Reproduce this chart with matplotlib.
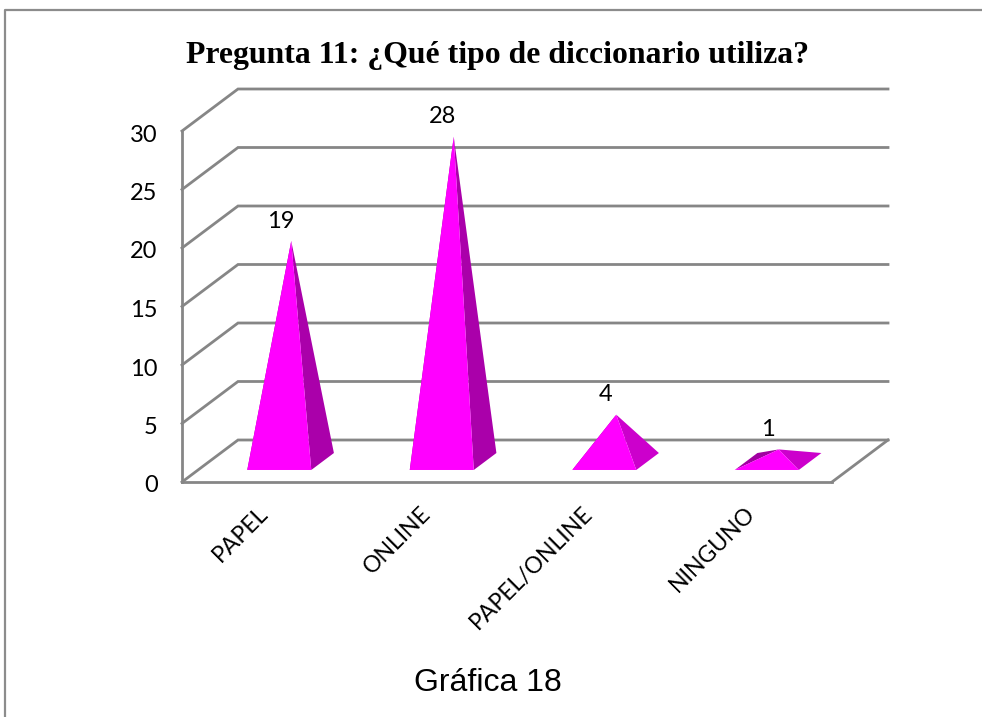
"""Pregunta 11 - pyramid chart with a fake 3D wall"""

import matplotlib
matplotlib.use("Agg")
import matplotlib.pyplot as plt
from matplotlib.lines import Line2D
from matplotlib.patches import Polygon
from matplotlib.transforms import ScaledTranslation

categories = ["PAPEL", "ONLINE", "PAPEL/ONLINE", "NINGUNO"]
values = [19, 28, 4, 1]
y_ticks = [0, 5, 10, 15, 20, 25, 30]

title = "Pregunta 11: ¿Qué tipo de diccionario utiliza?"
caption = "Gráfica 18"

GRID = "#868686"
FRONT = "#FF00FF"
SIDE = ["#AA00AA", "#AA00AA", "#CC00CC", "#CC00CC"]
BACK = "#A000A0"

# how far the back wall is shifted from the front plane, in data units
DEPTH_X = 56 / 162.5
DEPTH_Y = 42 / 11.7


def project(x, y, d):
    return x + d * DEPTH_X, y + d * DEPTH_Y


fig = plt.figure(figsize=(9.82, 7.17), dpi=100)
ax = fig.add_axes([182 / 982, (717 - 482) / 717, 650 / 982, 351 / 717])
ax.set_xlim(0, 4)
ax.set_ylim(0, 30)

# walls and floor
for t in y_ticks:
    x0, y0 = project(0, t, 0)
    x1, y1 = project(0, t, 1)
    x2, y2 = project(4, t, 1)
    ax.plot([x0, x1, x2], [y0, y1, y2], color=GRID, lw=2.0, clip_on=False,
            solid_joinstyle="miter", zorder=1)
x0, y0 = project(4, 0, 0)
x1, y1 = project(4, 0, 1)
ax.plot([x0, x1], [y0, y1], color=GRID, lw=2.0, clip_on=False, zorder=1)

for side in ["top", "right"]:
    ax.spines[side].set_visible(False)
for side in ["left", "bottom"]:
    ax.spines[side].set_color(GRID)
    ax.spines[side].set_linewidth(2.0)

# pyramids
for i, v in enumerate(values):
    c = i + 0.5
    fl = project(c - 0.197, 0, 0.286)
    fr = project(c + 0.197, 0, 0.286)
    bl = project(c - 0.197, 0, 0.69)
    br = project(c + 0.197, 0, 0.69)
    apex = project(c, v * 0.99, 0.5)
    ax.add_patch(Polygon([fl, bl, apex], color=BACK, lw=0, zorder=3, clip_on=False))
    ax.add_patch(Polygon([fr, br, apex], color=SIDE[i], lw=0, zorder=3, clip_on=False))
    ax.add_patch(Polygon([fl, fr, apex], color=FRONT, lw=0, zorder=4, clip_on=False))
    ax.text(c + 0.105, apex[1] + 1.7, str(v), ha="center", va="center",
            family="Lato", fontsize=17, color="black", zorder=5)

ax.set_yticks(y_ticks)
ax.set_xticks([i + 0.5 for i in range(len(categories))])
ax.set_xticklabels(categories, rotation=45, ha="right", rotation_mode="anchor")
ax.tick_params(axis="both", length=0)
ax.tick_params(axis="y", pad=17.5)
ax.tick_params(axis="x", pad=15)
for lab in ax.get_yticklabels():
    lab.set_family("Lato")
    lab.set_fontsize(17)
    lab.set_transform(lab.get_transform() + ScaledTranslation(0, -2 / 100, fig.dpi_scale_trans))
for lab in ax.get_xticklabels():
    lab.set_family("Lato")
    lab.set_fontsize(16.5)
    lab.set_transform(lab.get_transform() + ScaledTranslation(-6 / 100, 0, fig.dpi_scale_trans))

fig.text(497 / 982, 1 - 56 / 717, title, ha="center", va="center",
         family="Liberation Serif", weight="bold", fontsize=22.9)
fig.text(488 / 982, 1 - 683 / 717, caption, ha="center", va="center",
         family="Liberation Sans", fontsize=23)

# page border of the picture
fig.add_artist(Line2D([5 / 982, 5 / 982, 1], [0, 1 - 10 / 717, 1 - 10 / 717],
                      color="#8C8C8C", lw=1.6))

fig.savefig("out.png", dpi=100)
